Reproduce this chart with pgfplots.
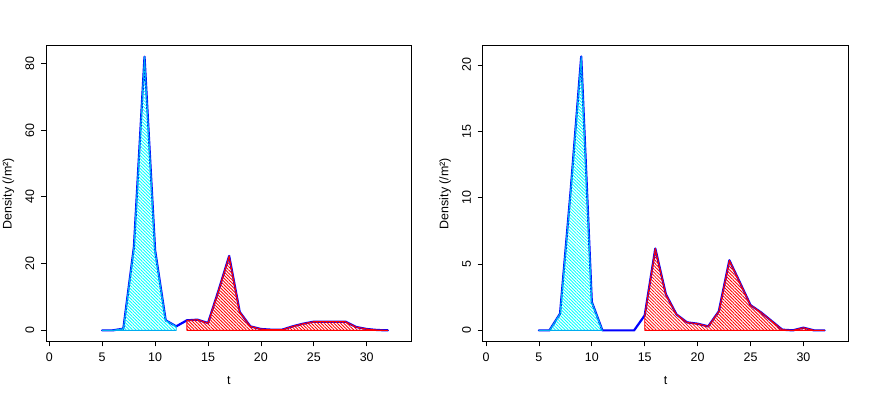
\documentclass[border=0pt]{standalone}
\usepackage{fontspec}
\setmainfont{Liberation Sans}
\usepackage{pgfplots}
\pgfplotsset{compat=1.18}
\usetikzlibrary{patterns.meta}

\pgfplotsset{
  rpanel/.style={
    scale only axis,
    anchor=south west,
    width=365.7bp, height=295.6bp,
    xmin=-0.31, xmax=34.25,
    xtick={0,5,...,30},
    axis line style={black, line width=0.75bp},
    tick style={black, line width=0.75bp},
    tick align=outside, tick pos=left,
    major tick length=5bp,
    /pgf/number format/assume math mode=true,
    tick label style={font=\fontsize{12.5}{15}\selectfont},
    label style={font=\fontsize{12.5}{15}\selectfont},
    xticklabel style={anchor=north, inner sep=0pt, yshift=-6.5bp},
    yticklabel style={rotate=90, anchor=south, inner xsep=0pt, inner ysep=6.5bp},
    xlabel={t},
    ylabel={Density (/m²)},
    x label style={at={(axis description cs:0.5,-0.134)}, anchor=center},
    y label style={at={(axis description cs:-0.1025,0.5)}, anchor=center, rotate=0},
    clip=false,
  },
  densline/.style={blue, line width=2.2bp, line join=round, line cap=round},
  hatchcyan/.style={draw=cyan, line width=0.9bp, line join=round,
    pattern={Lines[angle=-45, distance=2.3bp, line width=0.85bp]}, pattern color=cyan},
  hatchred/.style={draw=red, line width=0.9bp, line join=round,
    pattern={Lines[angle=-45, distance=2.3bp, line width=0.85bp]}, pattern color=red},
}

\begin{document}
\begin{tikzpicture}
\useasboundingbox (0,0) rectangle (872bp,399bp);

% left panel
\begin{axis}[rpanel, at={(46bp,57.7bp)},
  ymin=-3.28, ymax=85.28, ytick={0,20,...,80}]
\addplot[densline] coordinates {
  (5,0) (6,0) (7,0.5) (8,25) (9,82) (10,24) (11,3) (12,1.2) (13,3) (14,3.2)
  (15,2.2) (16,12) (17,22.3) (18,5.5) (19,1.2) (20,0.4) (21,0.2) (22,0.2)
  (23,1.2) (24,2) (25,2.6) (26,2.6) (27,2.6) (28,2.6) (29,1) (30,0.4)
  (31,0.1) (32,0)
};
\addplot[hatchcyan] coordinates {
  (5,0) (6,0) (7,0.5) (8,25) (9,82) (10,24) (11,3) (12,1.2)
} \closedcycle;
\addplot[hatchred] coordinates {
  (13,3) (14,3.2) (15,2.2) (16,12) (17,22.3) (18,5.5) (19,1.2) (20,0.4)
  (21,0.2) (22,0.2) (23,1.2) (24,2) (25,2.6) (26,2.6) (27,2.6) (28,2.6)
  (29,1) (30,0.4) (31,0.1) (32,0)
} \closedcycle;
\end{axis}

% right panel
\begin{axis}[rpanel, at={(482.7bp,57.7bp)},
  ymin=-0.825, ymax=21.45, ytick={0,5,...,20}]
\addplot[densline] coordinates {
  (5,0) (6,0) (7,1.26) (8,10.5) (9,20.63) (10,2.14) (11,0) (12,0) (13,0)
  (14,0) (15,1.13) (16,6.17) (17,2.72) (18,1.2) (19,0.6) (20,0.5) (21,0.3)
  (22,1.43) (23,5.28) (24,3.6) (25,1.9) (26,1.35) (27,0.7) (28,0.05)
  (29,0) (30,0.2) (31,0) (32,0)
};
\addplot[hatchcyan] coordinates {
  (5,0) (6,0) (7,1.26) (8,10.5) (9,20.63) (10,2.14) (11,0)
} \closedcycle;
\addplot[hatchred] coordinates {
  (15,1.13) (16,6.17) (17,2.72) (18,1.2) (19,0.6) (20,0.5) (21,0.3)
  (22,1.43) (23,5.28) (24,3.6) (25,1.9) (26,1.35) (27,0.7) (28,0.05)
  (29,0) (30,0.2) (31,0) (32,0)
} \closedcycle;
\end{axis}
\end{tikzpicture}
\end{document}
